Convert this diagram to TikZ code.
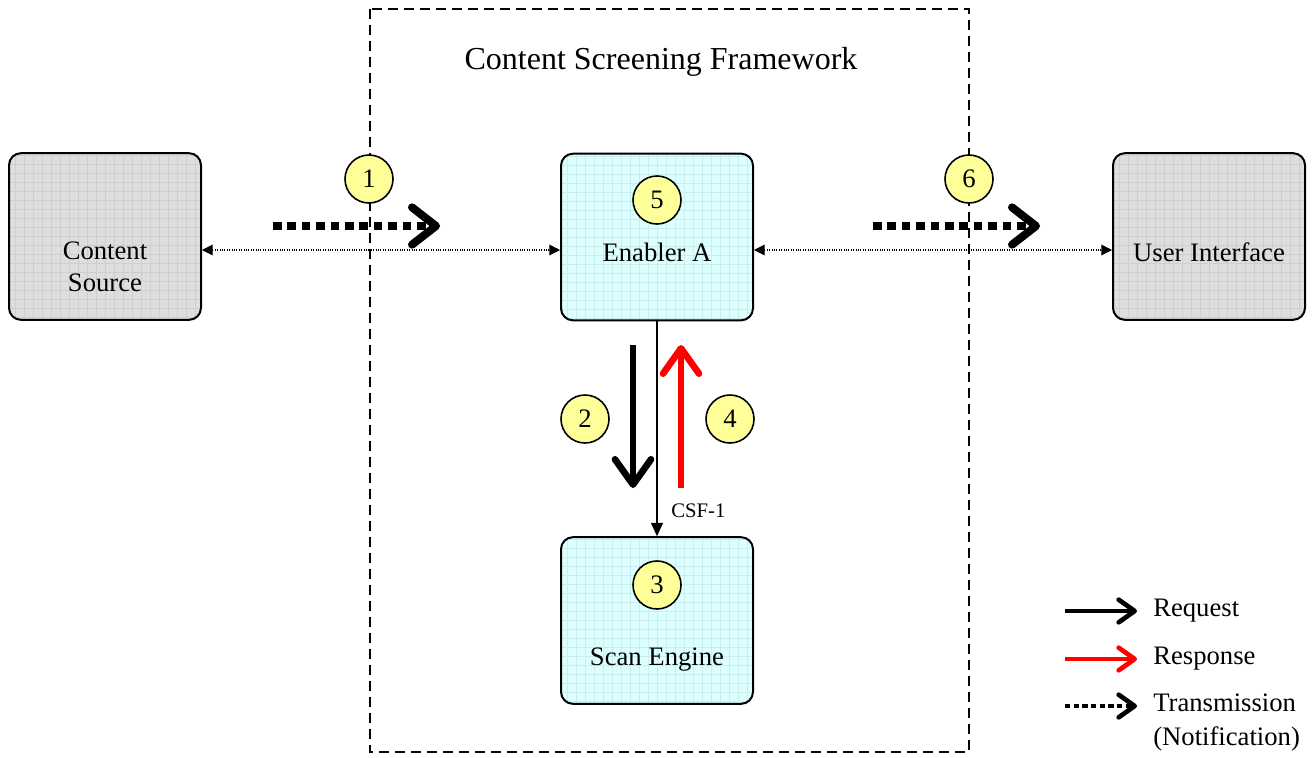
\documentclass[tikz,border=0pt]{standalone}
\usepackage{fontspec}
\setmainfont{Liberation Serif}
\usetikzlibrary{arrows.meta}
\definecolor{unitgray}{RGB}{222,222,222}
\definecolor{unitcyan}{RGB}{220,255,255}
\definecolor{stepyellow}{RGB}{255,255,153}
\tikzset{
	unit/.style={draw, line width=1.5pt, rounded corners=9pt, fill=#1,
		minimum width=144pt, minimum height=125pt,
		path picture={\draw[#1!93!black, line width=.2pt, step=6.75pt]
			(path picture bounding box.south west) grid (path picture bounding box.north east);}},
	unittext/.style={align=center, font=\fontsize{20}{24}\selectfont},
	stepno/.style={circle, draw, line width=1.2pt, fill=stepyellow, minimum size=36pt,
		inner sep=0pt, font=\fontsize{20}{20}\selectfont},
	link/.style={line width=.8pt, dash pattern=on .8pt off 1pt,
		{Triangle[length=8pt,width=8pt]}-{Triangle[length=8pt,width=8pt]}},
	trans/.style={line width=6pt, dash pattern=on 6.5pt off 4.3pt,
		-{Straight Barb[length=18pt,width=28pt,round]}},
	req/.style={line width=5pt, -{Straight Barb[length=19pt,width=27pt,round]}},
	legend/.style={anchor=west, inner sep=0pt, font=\fontsize{20}{20}\selectfont},
}
\begin{document}
\begin{tikzpicture}[x=0.75pt,y=-0.75pt]
	\useasboundingbox (0,0) rectangle (1312,757);

	% framework
	\draw[line width=1.5pt, dash pattern=on 7.5pt off 4.5pt] (370,9) rectangle (969,752);
	\node[font=\fontsize{24}{24}\selectfont] (title) at (661,62) {Content Screening Framework};

	% units
	\node[unit=unitgray] (source) at (105,236.5) {};
	\node[unit=unitcyan] (enabler) at (657,237) {};
	\node[unit=unitgray] (ui) at (1209,236.5) {};
	\node[unit=unitcyan] (scan) at (657,620.5) {};

	\node[unittext] (sourcetxt) at (105,267) {Content\\Source};
	\node[unittext] (enablertxt) at (657,252) {Enabler A};
	\node[unittext] (uitxt) at (1209,252) {User Interface};
	\node[unittext] (scantxt) at (657,660) {Scan Engine};

	% connectors
	\draw[link] (source.east |- 0,250) -- (enabler.west |- 0,250);
	\draw[link] (enabler.east |- 0,250) -- (ui.west |- 0,250);
	\draw[line width=1pt, -{Triangle[length=10pt,width=9pt]}] (enabler.south) -- (scan.north)
		node[pos=.88, right=7pt, font=\fontsize{15.5}{15.5}\selectfont] (csf) {CSF-1};

	% flows
	\draw[trans] (273,226) -- (440,226);
	\draw[trans] (873,226) -- (1040,226);
	\draw[req] (633,345) -- (633,488);
	\draw[req, color=red] (681,488) -- (681,345);

	% steps
	\node[stepno] (s1) at (369,179) {1};
	\node[stepno] (s2) at (585,419) {2};
	\node[stepno] (s3) at (657,585) {3};
	\node[stepno] (s4) at (730,419) {4};
	\node[stepno] (s5) at (657,200) {5};
	\node[stepno] (s6) at (969,179) {6};

	% legend
	\draw[line width=3.5pt, -{Straight Barb[length=12pt,width=17pt,round]}] (1065,611) -- (1137,611);
	\draw[line width=3.5pt, red, -{Straight Barb[length=12pt,width=17pt,round]}] (1065,659) -- (1137,659);
	\draw[line width=3.5pt, dash pattern=on 4pt off 2.5pt, -{Straight Barb[length=12pt,width=17pt,round]}] (1065,706) -- (1137,706);
	\node[legend] (lreq) at (1153,611) {Request};
	\node[legend] (lresp) at (1153,659) {Response};
	\node[legend, anchor=north west, align=left, font=\fontsize{20}{25}\selectfont] (ltrans) at (1153,694) {Transmission\\(Notification)};
\end{tikzpicture}
\end{document}
